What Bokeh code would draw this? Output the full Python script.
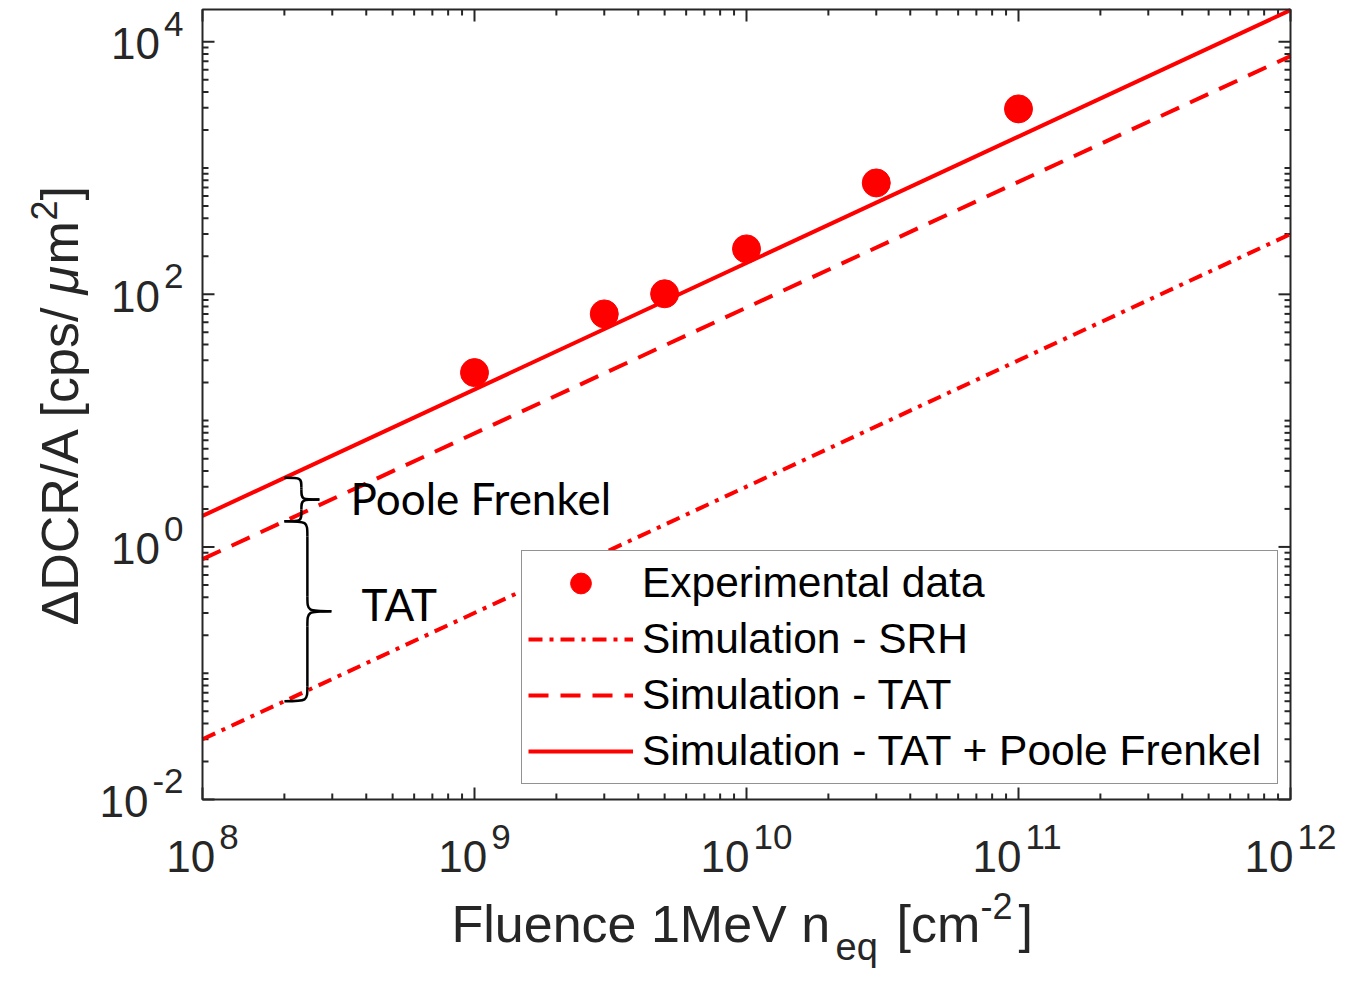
import numpy as np
from bokeh.plotting import figure
from bokeh.models import Label, Range1d
from bokeh.embed import file_html
from bokeh.resources import INLINE

# ---------------- data ----------------
fluence_exp = [1e9, 3e9, 5e9, 1e10, 3e10, 1e11]
dcr_exp = [24, 70, 101, 229, 762, 2940]

fluence_sim = [1e8, 1e12]
dcr_srh = [0.030, 300]
dcr_tat = [0.80, 7700]
dcr_tat_pf = [1.76, 17800]

x_tick_exps = [8, 9, 10, 11, 12]
y_tick_exps = [-2, 0, 2, 4]

legend_labels = ["Experimental data", "Simulation - SRH", "Simulation - TAT",
                 "Simulation - TAT + Poole Frenkel"]
brace_labels = ["Poole Frenkel", "TAT"]

# ---------------- layout constants (pixels) ----------------
W, H = 1347, 971
FL, FR, FT, FB = 202, 1290, 9, 799          # visible axes box
X0, X1 = 1e8, 1e12                          # axes limits
Y0, Y1 = 1e-2, 1.8e4
AX = "#262626"
RED = "#FF0000"
FONT = "Liberation Sans"

PX_X = (FR - FL) / np.log10(X1 / X0)
PX_Y = (FB - FT) / np.log10(Y1 / Y0)
xr = Range1d(10 ** (np.log10(X0) - FL / PX_X), 10 ** (np.log10(X1) + (W - FR) / PX_X))
yr = Range1d(10 ** (np.log10(Y0) - (H - FB) / PX_Y), 10 ** (np.log10(Y1) + FT / PX_Y))

p = figure(width=W, height=H, x_axis_type="log", y_axis_type="log",
           x_range=xr, y_range=yr, x_axis_location=None, y_axis_location=None,
           output_backend="svg", toolbar_location=None,
           min_border_left=0, min_border_right=0, min_border_top=0, min_border_bottom=0)
p.xgrid.visible = False
p.ygrid.visible = False
p.outline_line_color = None
p.background_fill_color = "white"
p.border_fill_color = "white"


def xshift(x, px):
    return 10 ** (np.log10(x) + px / PX_X)


def yshift(y, px):
    return 10 ** (np.log10(y) + px / PX_Y)


# ---------------- ticks & box ----------------
x_major = [10.0 ** e for e in x_tick_exps]
x_minor = [m * 10.0 ** k for k in range(8, 12) for m in range(2, 10)]
y_major = [10.0 ** e for e in y_tick_exps]
y_minor = [m * 10.0 ** k for k in range(-2, 5) for m in range(1, 10)
           if not (m == 1 and k in y_tick_exps) and m * 10.0 ** k < Y1]

sx0, sy0, sx1, sy1 = [], [], [], []
for ticks, ln in ((x_major, 12), (x_minor, 6)):
    for t in ticks:
        sx0 += [t, t]; sx1 += [t, t]
        sy0 += [Y0, Y1]; sy1 += [yshift(Y0, ln), yshift(Y1, -ln)]
for ticks, ln in ((y_major, 12), (y_minor, 6)):
    for t in ticks:
        sy0 += [t, t]; sy1 += [t, t]
        sx0 += [X0, X1]; sx1 += [xshift(X0, ln), xshift(X1, -ln)]
p.segment(sx0, sy0, sx1, sy1, line_color=AX, line_width=2)

# ---------------- series ----------------
p.line(fluence_sim, dcr_srh, line_color=RED, line_width=4, line_dash="14 7 4 7",
       legend_label=legend_labels[1])
p.line(fluence_sim, dcr_tat, line_color=RED, line_width=4, line_dash="20 12",
       legend_label=legend_labels[2])
p.line(fluence_sim, dcr_tat_pf, line_color=RED, line_width=4,
       legend_label=legend_labels[3])
p.scatter(fluence_exp, dcr_exp, size=28, fill_color=RED, line_color=RED,
          legend_label=legend_labels[0])

p.quad(left=[X0], right=[X1], bottom=[Y0], top=[Y1], fill_color=None,
       line_color=AX, line_width=2)

leg = p.legend[0]
items = list(leg.items)
order = {lab: i for i, lab in enumerate(legend_labels)}
items.sort(key=lambda it: order[it.label.value])
leg.items = items
leg.location = (521, H - 784)
leg.margin = 0
leg.padding = 6
leg.spacing = 4
leg.glyph_height = 52
leg.glyph_width = 105
leg.label_height = 52
leg.label_width = 629
leg.label_standoff = 9
leg.label_text_font = FONT
leg.label_text_font_size = "42.5px"
leg.label_text_color = "black"
leg.border_line_color = AX
leg.border_line_width = 1.5
leg.background_fill_color = "white"
leg.background_fill_alpha = 1.0

# ---------------- braces ----------------
def log_at(xq, xs, ys):
    return float(np.interp(np.log10(xq), np.log10(xs), np.log10(ys)))


def brace(xb, v_top, v_bot, stem_px, tip_px, r_px):
    u = np.log10(xb)
    us = u + stem_px / PX_X
    ut = u + tip_px / PX_X
    vm = (v_top + v_bot) / 2
    r = r_px / PX_Y
    segs = [
        ((u, v_top), (us, v_top), (us, v_top), (us, v_top - r)),
        ((us, v_top - r), (us, v_top - r), (us, vm + r), (us, vm + r)),
        ((us, vm + r), (us, vm), (us, vm), (ut, vm)),
        ((ut, vm), (us, vm), (us, vm), (us, vm - r)),
        ((us, vm - r), (us, vm - r), (us, v_bot + r), (us, v_bot + r)),
        ((us, v_bot + r), (us, v_bot), (us, v_bot), (u, v_bot)),
    ]
    d = dict(x0=[], y0=[], cx0=[], cy0=[], cx1=[], cy1=[], x1=[], y1=[])
    for (a, c0, c1, b) in segs:
        d["x0"].append(10 ** a[0]); d["y0"].append(10 ** a[1])
        d["cx0"].append(10 ** c0[0]); d["cy0"].append(10 ** c0[1])
        d["cx1"].append(10 ** c1[0]); d["cy1"].append(10 ** c1[1])
        d["x1"].append(10 ** b[0]); d["y1"].append(10 ** b[1])
    p.bezier(line_color="black", line_width=2.5, **d)


xb = 2e8
v_pf = log_at(xb, fluence_sim, dcr_tat_pf)
v_tat = log_at(xb, fluence_sim, dcr_tat)
v_srh = log_at(xb, fluence_sim, dcr_srh)
brace(xb, v_pf, v_tat, 17, 35, 10)
brace(xb, v_tat, v_srh, 23, 47, 15)

# ---------------- text helper ----------------
K_BASE = 0.43   # observed shift of the "alphabetic" anchor, as a fraction of font size


def text(xd, yd, dx, dy, txt, fs, font=FONT, align="left", rotated=False,
         style="normal", color=AX):
    """dx, dy: desired baseline position in px (dy positive = up)."""
    if rotated:
        xo, yo, ang = dx - K_BASE * fs, dy, np.pi / 2
    else:
        xo, yo, ang = dx, dy + K_BASE * fs, 0.0
    p.add_layout(Label(x=xd, y=yd, x_offset=xo, y_offset=yo, text=txt, angle=ang,
                       text_font=font, text_font_size=f"{fs}px", text_font_style=style,
                       text_color=color, text_align=align, text_baseline="alphabetic"))


# brace annotations
text(X0, Y0, 148, 799 - 516, brace_labels[0], 44, font="Lato", color="black")
text(X0, Y0, 159, 799 - 622, brace_labels[1], 44, font="Lato", color="black")

# ---------------- tick labels ----------------
MAIN_FS, EXP_FS = 44, 35
DIG, MINUS = 0.556, 0.333


def exp_width(e):
    return sum((MINUS if ch == "-" else DIG) for ch in str(e)) * EXP_FS


W10 = 2 * DIG * MAIN_FS
GAP = 4
for e in x_tick_exps:
    tot = W10 + GAP + exp_width(e)
    text(10.0 ** e, Y0, -tot / 2, -76, "10", MAIN_FS)
    text(10.0 ** e, Y0, -tot / 2 + W10 + GAP, -53, str(e), EXP_FS)
for e in y_tick_exps:
    text(X0, 10.0 ** e, -19, 3, str(e), EXP_FS, align="right")
    text(X0, 10.0 ** e, -19 - exp_width(e) - GAP, -21, "10", MAIN_FS, align="right")

# ---------------- axis labels ----------------
LAB_FS = 52
xc = 10 ** ((np.log10(X0) + np.log10(X1)) / 2)
x_parts = [("Fluence 1MeV n", -295, -147, LAB_FS),
           ("eq", 89, -164, 38),
           ("[cm", 150, -147, LAB_FS),
           ("-2", 234, -122, 36),
           ("]", 272, -147, LAB_FS)]
for txt, dx, dy, fs in x_parts:
    text(xc, Y0, dx, dy, txt, fs)

y_parts = [("ΔDCR/A [cps/", -120, 174, LAB_FS, "normal"),
           ("μ", -120, 505, LAB_FS, "italic"),
           ("m", -120, 535, LAB_FS, "normal"),
           ("2", -143, 579, 36, "normal"),
           ("]", -120, 599, LAB_FS, "normal")]
for txt, dx, dy, fs, st in y_parts:
    text(X0, Y0, dx, dy, txt, fs, rotated=True, style=st)

open("out.html", "w").write(file_html(p, INLINE))
